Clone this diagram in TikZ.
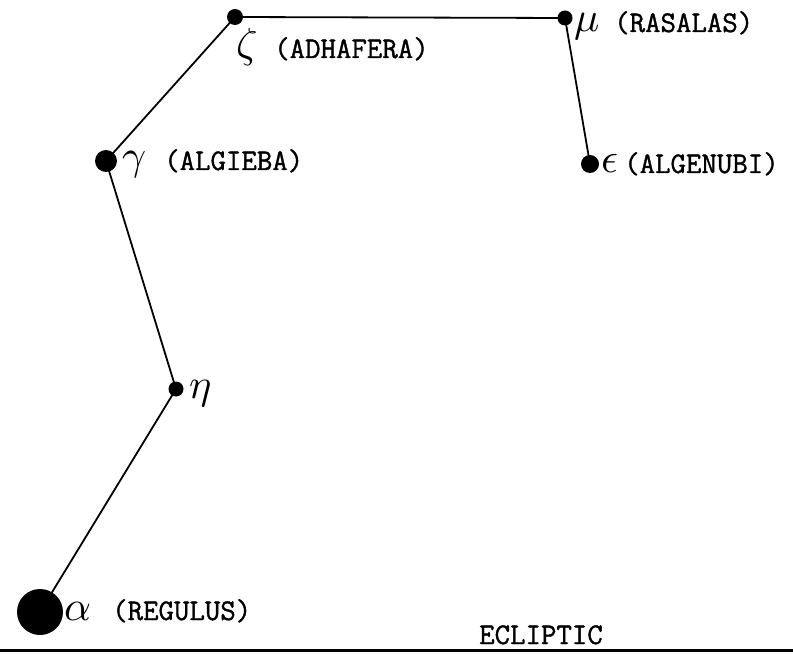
\documentclass[tikz,border=0pt]{standalone}
\usepackage{unicode-math}
\newfontfamily\labfont{Latin Modern Mono}[FakeBold=1.2]
\begin{document}
\begin{tikzpicture}[x=1pt,y=-1pt,
  stardot/.style={circle,fill=black,inner sep=0pt,minimum size=#1},
  link/.style={line width=1.8pt},
  greeklab/.style={anchor=base west,inner sep=0pt,font=\fontsize{42}{42}\selectfont},
  namelab/.style={anchor=base west,inner sep=0pt,font=\fontsize{30}{30}\selectfont\labfont}]
\useasboundingbox (0,0) rectangle (793,655);
% stars
\node[stardot=46pt] (alpha) at (40,612) {};
\node[stardot=15pt] (eta) at (176,389) {};
\node[stardot=22pt] (gamma) at (106,161) {};
\node[stardot=16pt] (zeta) at (235,17) {};
\node[stardot=15pt] (mu) at (565,18) {};
\node[stardot=18pt] (eps) at (590,164) {};
% connectors
\draw[link] (alpha.center) -- (eta.center) -- (gamma.center) -- (zeta.center) -- (mu.center) -- (eps.center);
% labels
\node[greeklab] (galpha) at (64,620) {$\alpha$};
\node[namelab] (nalpha) at (112,620) {(REGULUS)};
\node[greeklab] (geta) at (189,398) {$\eta$};
\node[greeklab] (ggamma) at (122,170) {$\gamma$};
\node[namelab] (ngamma) at (164,170) {(ALGIEBA)};
\node[greeklab] (gzeta) at (236,58) {$\zeta$};
\node[namelab] (nzeta) at (274,58) {(ADHAFERA)};
\node[greeklab] (gmu) at (574,32) {$\mu$};
\node[namelab] (nmu) at (614,32) {(RASALAS)};
\node[greeklab] (geps) at (601,173) {$\epsilon$};
\node[namelab] (neps) at (624,173) {(ALGENUBI)};
\node[namelab] (ecl) at (479,644) {ECLIPTIC};
% ecliptic line
\coordinate (el) at (0,650);
\coordinate (er) at (793,650);
\draw[line width=3pt] (el) -- (er);
\end{tikzpicture}
\end{document}
